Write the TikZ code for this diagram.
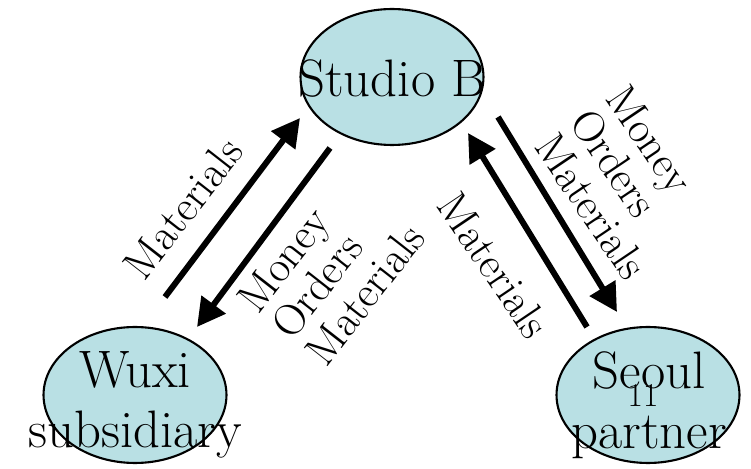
\documentclass[tikz,border=0pt]{standalone}
\usepackage{tikz}
\usetikzlibrary{shapes.geometric, arrows.meta}
\definecolor{placeblue}{RGB}{185,224,228}
\tikzstyle{place} = [ellipse, minimum width=3.66cm, minimum height=2.72cm, draw=black, line width=1.2pt, fill=placeblue]
\tikzstyle{placename} = [align=center, font=\fontsize{30}{34}\selectfont, inner sep=0pt]
\tikzstyle{flow} = [align=left, font=\fontsize{25}{24.5}\selectfont, inner sep=0pt]
\tikzstyle{arrow} = [line width=3.4pt, -{Triangle[length=0.56cm, width=0.58cm]}]

\begin{document}
\begin{tikzpicture}[x=0.02cm, y=-0.02cm]
\useasboundingbox (0,0) rectangle (751,469);
\node (studio) [place] at (392,77) {};
\node (wuxi) [place] at (135,395) {};
\node (seoul) [place] at (648,395) {};
\node (studioname) [placename, anchor=base] at (392,97) {Studio B};
\node (wuxiname) [placename] at (135,405) {Wuxi\\subsidiary};
\node (seoulname) [placename] at (649,405) {Seoul\\partner};
\node (pagenum) [inner sep=0pt, font=\fontsize{19}{19}\selectfont] at (643,395) {11};
% arrow ends
\coordinate (w1) at (165,297);
\coordinate (s1) at (300,118);
\coordinate (s2) at (330,148);
\coordinate (w2) at (197,327);
\coordinate (k1) at (587,327);
\coordinate (s3) at (468,133);
\coordinate (s4) at (498,117);
\coordinate (k2) at (617,312);
\draw [arrow] (w1) -- (s1);
\draw [arrow] (s2) -- (w2);
\draw [arrow] (k1) -- (s3);
\draw [arrow] (s4) -- (k2);
% labels
\node (upleft) [flow, rotate=52] at (183,208) {Materials};
\node (downleft) [flow, rotate=52] at (331,268) {Money\\Orders\\Materials};
\node (upright) [flow, rotate=-56] at (494,265) {Materials};
\node (downright) [flow, rotate=-56] at (627,182) {Money\\Orders\\Materials};
\end{tikzpicture}
\end{document}
